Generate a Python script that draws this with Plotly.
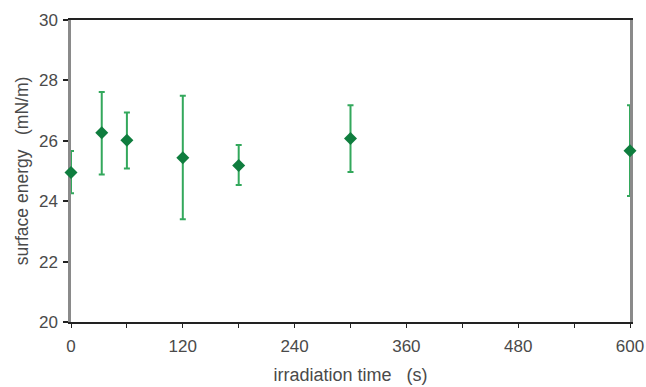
import plotly.graph_objects as go

# irradiation time (s) and measured surface energy (mN/m) with error bars
time_s = [0, 33, 60, 120, 180, 300, 600]
energy = [24.95, 26.27, 26.02, 25.44, 25.18, 26.08, 25.67]
err_up = [0.71, 1.35, 0.92, 2.05, 0.68, 1.10, 1.51]
err_down = [0.69, 1.39, 0.94, 2.04, 0.64, 1.11, 1.50]

x_ticks = [0, 60, 120, 180, 240, 300, 360, 420, 480, 540, 600]
x_labels = ["0", "", "120", "", "240", "", "360", "", "480", "", "600"]
y_ticks = [20, 22, 24, 26, 28, 30]

fig = go.Figure()
fig.add_trace(go.Scatter(
    x=time_s, y=energy, mode="markers",
    marker=dict(symbol="diamond", size=10, color="#0f7d3e"),
    error_y=dict(type="data", symmetric=False, array=err_up, arrayminus=err_down,
                 color="#33a85c", thickness=2, width=3),
    cliponaxis=False,
))

font = "Liberation Sans, Arial, sans-serif"
text_color = "#4a4a4a"
fig.update_layout(
    width=646, height=387,
    margin=dict(l=71, r=16, t=20, b=65),
    paper_bgcolor="white", plot_bgcolor="white",
    showlegend=False,
    font=dict(family=font, color=text_color, size=16),
)
fig.update_xaxes(
    range=[0, 600], tickvals=x_ticks, ticktext=x_labels,
    ticks="outside", ticklen=4, tickwidth=1, tickcolor="#222",
    showline=True, linecolor="#222", linewidth=1.5, mirror=True,
    showgrid=False, zeroline=False, automargin=False,
    tickfont=dict(size=17, color=text_color), ticklabelstandoff=4,
    title=dict(text="irradiation time   (s)", font=dict(size=18, color=text_color), standoff=13),
    layer="below traces",
)
fig.update_yaxes(
    range=[20, 30], tickvals=y_ticks,
    ticks="outside", ticklen=5, tickwidth=1.5, tickcolor="#222",
    showline=True, linecolor="#8a8a8a", linewidth=2.5, mirror=True,
    showgrid=False, zeroline=False, automargin=False,
    tickfont=dict(size=17, color=text_color), ticklabelstandoff=2,
    title=dict(text="surface energy   (mN/m)", font=dict(size=17.5, color=text_color), standoff=6),
    layer="below traces",
)

fig.write_html("out.html")
